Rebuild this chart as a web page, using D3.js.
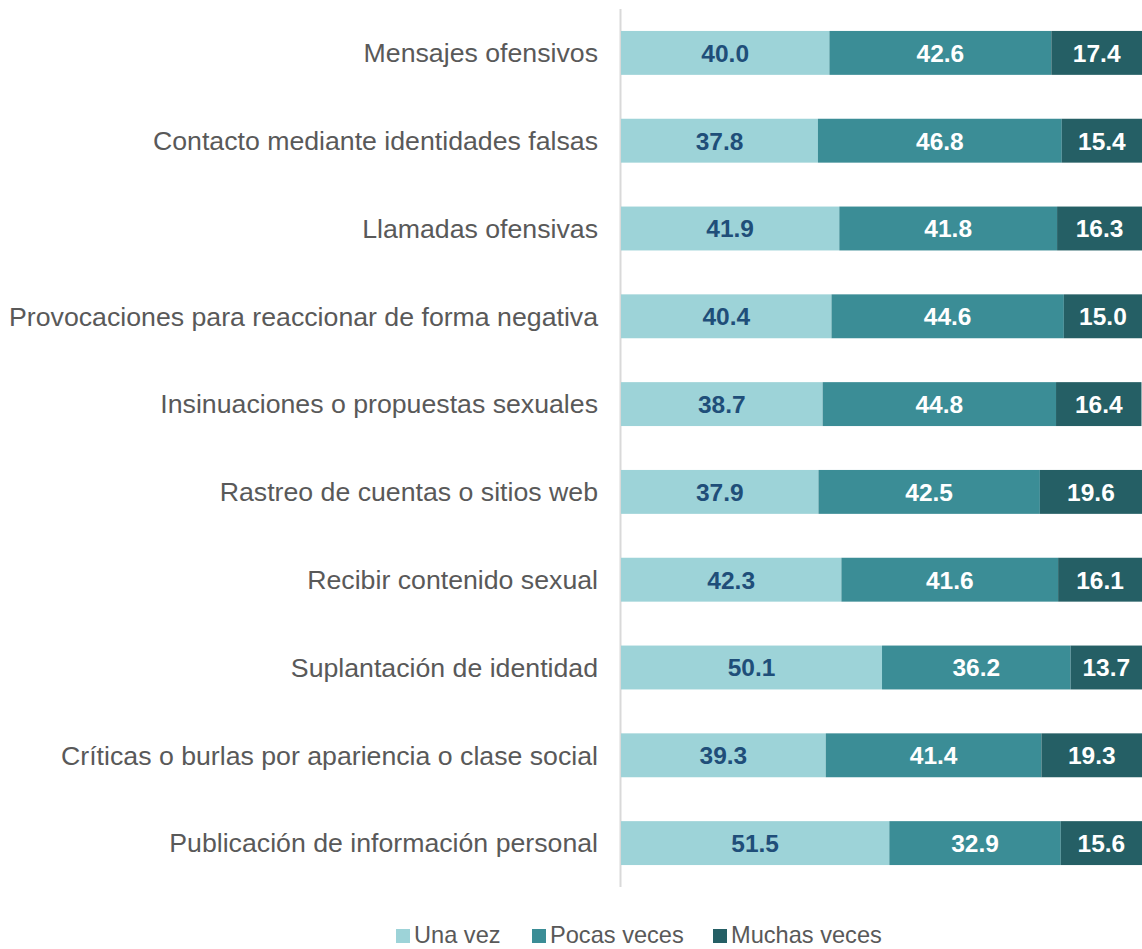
<!DOCTYPE html>
<html>
<head>
<meta charset="utf-8">
<script src="https://cdn.jsdelivr.net/npm/d3@7"></script>
<style>
  body { margin: 0; background: #fff; }
  svg { display: block; font-family: "Liberation Sans", Arial, sans-serif; }
</style>
</head>
<body>
<svg id="chart"></svg>
<script>
// Stacked percentage bars - frequency of online harassment types

const categories = [
  'Mensajes ofensivos',
  'Contacto mediante identidades falsas',
  'Llamadas ofensivas',
  'Provocaciones para reaccionar de forma negativa',
  'Insinuaciones o propuestas sexuales',
  'Rastreo de cuentas o sitios web',
  'Recibir contenido sexual',
  'Suplantación de identidad',
  'Críticas o burlas por apariencia o clase social',
  'Publicación de información personal'
];

const seriesNames = ['Una vez', 'Pocas veces', 'Muchas veces'];

const unaVez = [40.0, 37.8, 41.9, 40.4, 38.7, 37.9, 42.3, 50.1, 39.3, 51.5];
const pocasVeces = [42.6, 46.8, 41.8, 44.6, 44.8, 42.5, 41.6, 36.2, 41.4, 32.9];
const muchasVeces = [17.4, 15.4, 16.3, 15.0, 16.4, 19.6, 16.1, 13.7, 19.3, 15.6];

const colors = ['#9dd3d8', '#3b8d96', '#255f65'];
const labelColors = ['#1f4e79', '#ffffff', '#ffffff'];

const width = 1142;
const height = 949;

const svg = d3.select('#chart')
  .attr('width', width)
  .attr('height', height);

// Build table for stacking
const rows = categories.map((c, i) => ({
  cat: c,
  'Una vez': unaVez[i],
  'Pocas veces': pocasVeces[i],
  'Muchas veces': muchasVeces[i]
}));

const stacked = d3.stack().keys(seriesNames)(rows);

const xScale = d3.scaleLinear()
  .domain([0, 100])
  .range([621, 1142]);

const yScale = d3.scaleBand()
  .domain(categories)
  .range([9, 887])
  .paddingInner(0.5)
  .paddingOuter(0.25);

// Axis line at zero
svg.append('line')
  .attr('x1', xScale(0) - 0.5)
  .attr('x2', xScale(0) - 0.5)
  .attr('y1', 9)
  .attr('y2', 887)
  .style('stroke', '#d9d9d9')
  .style('stroke-width', '2px');

// Bars
const layers = svg.selectAll('.layer')
  .data(stacked)
  .enter()
  .append('g')
  .attr('class', 'layer');

layers.each(function(layer, li) {
  const g = d3.select(this);

  g.selectAll('rect')
    .data(layer)
    .enter()
    .append('rect')
    .attr('x', d => xScale(d[0]))
    .attr('y', d => yScale(d.data.cat))
    .attr('width', d => xScale(d[1]) - xScale(d[0]))
    .attr('height', yScale.bandwidth())
    .style('fill', colors[li]);

  g.selectAll('text')
    .data(layer)
    .enter()
    .append('text')
    .attr('x', d => (xScale(d[0]) + xScale(d[1])) / 2)
    .attr('y', d => yScale(d.data.cat) + yScale.bandwidth() / 2)
    .attr('dy', '0.36em')
    .attr('text-anchor', 'middle')
    .style('font-size', '24.5px')
    .style('font-weight', 'bold')
    .style('fill', labelColors[li])
    .text(d => (d[1] - d[0]).toFixed(1));
});

// Category labels
svg.append('g')
  .selectAll('text')
  .data(categories)
  .enter()
  .append('text')
  .attr('x', 598)
  .attr('y', d => yScale(d) + yScale.bandwidth() / 2)
  .attr('dy', '0.35em')
  .attr('text-anchor', 'end')
  .style('font-size', '26.7px')
  .style('fill', '#595959')
  .text(d => d);

// Legend
const legendX = [396, 532, 713];
const legend = svg.append('g')
  .attr('class', 'legend');

const legendItems = legend.selectAll('.legend-item')
  .data(seriesNames)
  .enter()
  .append('g')
  .attr('class', 'legend-item')
  .attr('transform', (d, i) => `translate(${legendX[i]},935)`);

legendItems.append('rect')
  .attr('x', 0)
  .attr('y', -6)
  .attr('width', 14)
  .attr('height', 14)
  .style('fill', (d, i) => colors[i]);

legendItems.append('text')
  .attr('x', 18)
  .attr('y', 0)
  .attr('dy', '0.35em')
  .style('font-size', '23.6px')
  .style('fill', '#595959')
  .text(d => d);
</script>
</body>
</html>
